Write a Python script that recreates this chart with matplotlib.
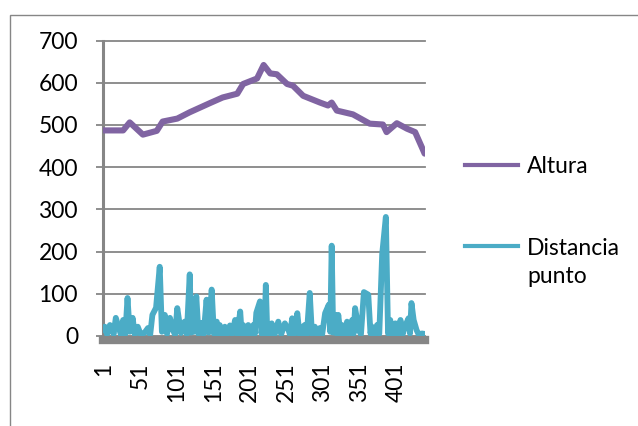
"""Altura y distancia por punto, estilo grafico de Excel."""

import matplotlib
matplotlib.use("Agg")
import matplotlib.pyplot as plt
from matplotlib.lines import Line2D
from matplotlib.patches import Rectangle

N_PUNTOS = 440

# Altura
alt_x = [1, 28, 37, 55, 74, 82, 102, 119, 147, 164, 184, 192, 211, 220,
         229, 238, 252, 260, 274, 297, 308, 313, 320, 342, 365, 383, 388,
         402, 416, 427, 438, 440]
alt_y = [487, 487, 506, 477, 486, 508, 515, 530, 552, 565, 574, 597, 610, 642,
         622, 620, 597, 593, 569, 553, 546, 553, 534, 525, 503, 501, 483,
         504, 491, 483, 440, 432]

# Distancia punto (picos leidos, valles estimados)
dist_x = [1, 3, 6, 10, 13, 15, 18, 22, 25, 28, 31, 34, 37, 41, 44, 48, 52,
          57, 62, 65, 68, 73, 78, 81, 85, 88, 92, 96, 99, 102, 107, 112, 115,
          119, 121, 123, 125, 128, 131, 135, 138, 142, 145, 149, 152, 156,
          158, 160, 163, 167, 170, 174, 177, 181, 184, 188, 190, 192, 195,
          199, 202, 206, 208, 210, 215, 217, 219, 221, 223, 225, 226, 228,
          231, 235, 240, 244, 249, 254, 256, 259, 262, 266, 269, 272, 274,
          276, 279, 283, 286, 290, 293, 297, 300, 304, 309, 311, 313, 315,
          318, 320, 322, 325, 327, 330, 334, 337, 341, 343, 345, 350, 353,
          357, 363, 366, 368, 371, 375, 378, 382, 387, 390, 393, 396, 400,
          403, 407, 410, 413, 418, 420, 422, 425, 429, 432, 436, 440]
dist_y = [15, 22, 4, 26, 14, 4, 43, 20, 3, 38, 5, 90, 10, 43, 3, 22, 4,
          7, 19, 3, 50, 67, 164, 10, 50, 5, 43, 14, 3, 66, 7, 34, 4,
          146, 8, 50, 10, 94, 5, 31, 4, 86, 8, 110, 6, 34,
          4, 26, 3, 22, 4, 25, 5, 38, 4, 58, 6, 26, 3,
          26, 4, 26, 5, 55, 82, 6, 34, 4, 121, 5, 26, 4,
          30, 3, 34, 4, 30, 14, 3, 42, 5, 54, 4, 22, 3,
          26, 4, 102, 5, 22, 3, 19, 4, 54, 74, 10, 214, 8,
          50, 5, 50, 4, 26, 3, 34, 4, 38, 6, 66, 14, 4,
          104, 98, 6, 22, 3, 26, 5, 194, 282, 6, 38, 4, 30,
          3, 38, 4, 22, 42, 6, 78, 38, 14, 3, 6, 5]

x_ticks = list(range(1, 402, 50))
y_ticks = list(range(0, 701, 100))

GRIS = "#868686"
MORADO = "#8064A2"
AZUL = "#4BACC6"
FUENTE = "Lato"

plt.rcParams["font.family"] = [FUENTE, "DejaVu Sans"]

fig = plt.figure(figsize=(6.38, 4.26), dpi=100)
W, H = 638.0, 426.0

# marco exterior del grafico
fig.add_artist(Rectangle((10 / W, -0.2), 1.2, 1.2 - 15 / H,
                         transform=fig.transFigure, fill=False,
                         edgecolor=GRIS, linewidth=1.0))

ax = fig.add_axes([103 / W, 1 - 336 / H, 322 / W, (336 - 40.5) / H])

ax.plot(alt_x, alt_y, color=MORADO, linewidth=4.4, solid_joinstyle="round",
        solid_capstyle="round", zorder=3)
ax.plot(dist_x, dist_y, color=AZUL, linewidth=4.2, solid_joinstyle="round",
        solid_capstyle="round", zorder=4)

ax.set_xlim(0.5, N_PUNTOS + 0.5)
ax.set_ylim(0, 700)

ax.set_yticks(y_ticks)
ax.set_xticks(x_ticks)
ax.set_xticklabels([str(v) for v in x_ticks])

ax.grid(axis="y", color=GRIS, linewidth=1.3)
for gl in ax.yaxis.get_gridlines():
    gl.set_clip_on(False)
ax.set_axisbelow(True)

for s in ("top", "right"):
    ax.spines[s].set_visible(False)
ax.spines["left"].set_color(GRIS)
ax.spines["left"].set_linewidth(2.2)
ax.spines["bottom"].set_color(GRIS)
ax.spines["bottom"].set_linewidth(6.0)
ax.spines["bottom"].set_position(("outward", 3.2))
ax.spines["bottom"].set_zorder(2)

ax.tick_params(axis="y", length=5, width=1.3, color=GRIS, pad=13,
               labelsize=16.5, labelcolor="black")
ax.tick_params(axis="x", length=0, pad=16, labelsize=16.5,
               labelcolor="black", labelrotation=90)

# leyenda a la derecha
fig.add_artist(Line2D([465 / W, 518 / W], [1 - 165 / H, 1 - 165 / H],
                      color=MORADO, linewidth=3.0, transform=fig.transFigure))
fig.add_artist(Line2D([465 / W, 518 / W], [1 - 246 / H, 1 - 246 / H],
                      color=AZUL, linewidth=3.0, transform=fig.transFigure))
fig.text(527 / W, 1 - 166 / H, "Altura", fontsize=16.5, va="center")
fig.text(527 / W, 1 - 262.5 / H, "Distancia\npunto", fontsize=16.5,
         va="center", linespacing=1.44)

fig.savefig("out.png", dpi=100)
